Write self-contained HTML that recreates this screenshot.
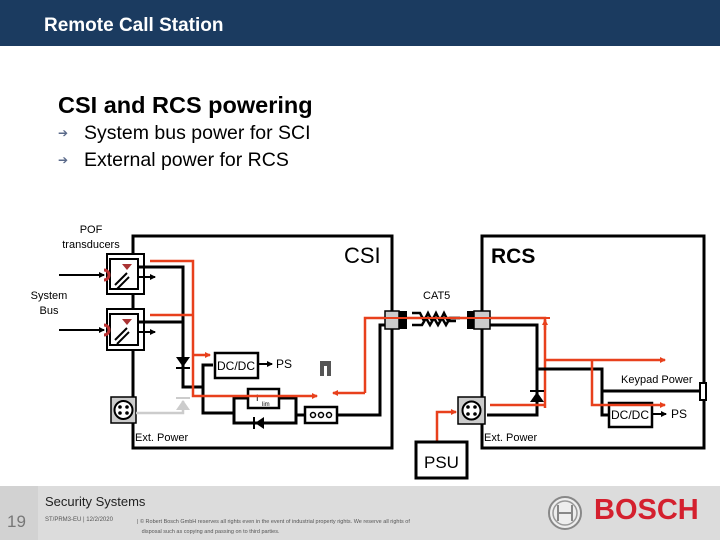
<!DOCTYPE html>
<html><head><meta charset="utf-8"><style>
body{margin:0;width:720px;height:540px;overflow:hidden;background:#fff;font-family:"Liberation Sans",sans-serif;position:relative}
.t{position:absolute;white-space:nowrap}
</style></head><body>
<div style="position:absolute;left:0;top:0;width:720px;height:46px;background:#1b3b60"></div>
<div class="t" style="left:44px;top:15px;font-size:19px;font-weight:bold;color:#fff">Remote Call Station</div>
<div class="t" style="left:58px;top:92px;font-size:23.5px;font-weight:bold;color:#000">CSI and RCS powering</div>
<div class="t" style="left:58px;top:126px;font-size:12px;color:#5a6a8a">➔</div>
<div class="t" style="left:84px;top:122px;font-size:19.5px;color:#000">System bus power for SCI</div>
<div class="t" style="left:58px;top:153px;font-size:12px;color:#5a6a8a">➔</div>
<div class="t" style="left:84px;top:149px;font-size:19.5px;color:#000">External power for RCS</div>

<div style="position:absolute;left:0;top:486px;width:720px;height:54px;background:#dcdcdc"></div>
<div style="position:absolute;left:0;top:486px;width:38px;height:54px;background:#d2d2d2"></div>
<div class="t" style="left:7px;top:512px;font-size:17px;color:#777">19</div>
<div class="t" style="left:45px;top:494px;font-size:13px;color:#222">Security Systems</div>
<div class="t" style="left:45px;top:517px;font-size:6px;color:#555">ST/PRM3-EU | 12/2/2020</div>
<div class="t" style="left:137px;top:517px;font-size:5.5px;color:#555;line-height:10px">| © Robert Bosch GmbH reserves all rights even in the event of industrial property rights. We reserve all rights of<br>&nbsp;&nbsp;&nbsp;disposal such as copying and passing on to third parties.</div>
<svg style="position:absolute;left:545px;top:493px" width="40" height="40"><circle cx="20" cy="20" r="16" fill="#eee" stroke="#888" stroke-width="2"/><circle cx="20" cy="20" r="12" fill="none" stroke="#999" stroke-width="1.5"/><path d="M13 12v16M27 12v16M13 20h14" stroke="#888" stroke-width="2" fill="none"/></svg>
<div class="t" style="left:594px;top:494px;font-size:29px;font-weight:bold;color:#d4202e">BOSCH</div>

<svg style="position:absolute;left:0;top:0" width="720" height="540" font-family="Liberation Sans, sans-serif">
<defs>
<marker id="ar" markerWidth="6" markerHeight="6" refX="5" refY="3" orient="auto" markerUnits="userSpaceOnUse"><path d="M0,0L6,3L0,6z" fill="#e8401c"/></marker>
<marker id="ab" markerWidth="6" markerHeight="6" refX="5" refY="3" orient="auto" markerUnits="userSpaceOnUse"><path d="M0,0L6,3L0,6z" fill="#000"/></marker>
</defs>
<text x="91" y="233" font-size="11" text-anchor="middle">POF</text>
<text x="91" y="248" font-size="11" text-anchor="middle">transducers</text>
<text x="49" y="299" font-size="11" text-anchor="middle">System</text>
<text x="49" y="314" font-size="11" text-anchor="middle">Bus</text>
<rect x="133" y="236" width="259" height="212" fill="none" stroke="#000" stroke-width="3"/>
<rect x="482" y="236" width="222" height="212" fill="none" stroke="#000" stroke-width="3"/>
<text x="344" y="263" font-size="22">CSI</text>
<text x="491" y="263" font-size="21" font-weight="bold">RCS</text>
<text x="423" y="299" font-size="11">CAT5</text>
<g fill="#fff" stroke="#000" stroke-width="2">
<rect x="107" y="254" width="37" height="40"/><rect x="110" y="259" width="28" height="30"/>
<rect x="107" y="309" width="37" height="41"/><rect x="110" y="314" width="28" height="31"/>
</g>
<g stroke="#000" stroke-width="2" fill="none">
<path d="M115 285l12-12M117 289l12-12"/><path d="M115 340l12-12M117 344l12-12"/>
<path d="M59 275h45" marker-end="url(#ab)"/><path d="M59 330h45" marker-end="url(#ab)"/>
<path d="M139 277h16" marker-end="url(#ab)"/><path d="M139 332h16" marker-end="url(#ab)"/>
</g>
<path d="M122 264h10l-5 6z" fill="#a33"/><path d="M122 319h10l-5 6z" fill="#a33"/>
<path d="M104 270a5 5 0 0 1 0 10" stroke="#b33" stroke-width="3" fill="none"/>
<path d="M104 325a5 5 0 0 1 0 10" stroke="#b33" stroke-width="3" fill="none"/>
<g stroke="#000" stroke-width="3" fill="none">
<path d="M139 267h44v120h20v-22h10"/>
<path d="M139 322h44"/>
<path d="M203 387v26h31"/>
<rect x="234" y="398" width="62" height="25"/>
<path d="M296 415h9"/><path d="M337 415h43v-90h5"/>
</g>
<path d="M176 357h14l-7 10z" fill="#000"/><path d="M176 368h14" stroke="#000" stroke-width="2"/>
<rect x="215" y="353" width="43" height="25" fill="#fff" stroke="#000" stroke-width="2.5"/>
<text x="217" y="370" font-size="12">DC/DC</text>
<path d="M258 364h14" stroke="#000" stroke-width="2" marker-end="url(#ab)"/>
<text x="276" y="368" font-size="12">PS</text>
<rect x="320" y="361" width="11" height="15" fill="#555"/><rect x="324" y="366" width="3" height="10" fill="#fff"/>
<rect x="248" y="389" width="31" height="19" fill="#fff" stroke="#000" stroke-width="2.5"/>
<text x="256" y="401" font-size="9">I</text><text x="262" y="406" font-size="6">lim</text>
<path d="M264 417l-9 6 9 6z" fill="#000"/><path d="M254 417v12" stroke="#000" stroke-width="2"/>
<rect x="305" y="407" width="32" height="16" fill="#fff" stroke="#000" stroke-width="2.5"/>
<g fill="none" stroke="#000" stroke-width="1.5"><circle cx="313" cy="415" r="2.5"/><circle cx="321" cy="415" r="2.5"/><circle cx="329" cy="415" r="2.5"/></g>
<rect x="111" y="397" width="25" height="26" fill="#ccc" stroke="#000" stroke-width="1.5"/>
<circle cx="123.5" cy="410" r="9" fill="#fff" stroke="#000" stroke-width="2"/>
<g fill="#000"><circle cx="120" cy="407" r="1.8"/><circle cx="127" cy="407" r="1.8"/><circle cx="120" cy="413" r="1.8"/><circle cx="127" cy="413" r="1.8"/></g>
<path d="M136 413h47v-12" stroke="#ccc" stroke-width="2.5" fill="none"/>
<path d="M176 410h14l-7-10z" fill="#ccc"/><path d="M176 398h14" stroke="#ccc" stroke-width="2"/>
<text x="135" y="441" font-size="11">Ext. Power</text>
<g stroke="#e8401c" stroke-width="2.5" fill="none">
<path d="M150 261h43v135h124" marker-end="url(#ar)"/>
<path d="M150 315h43"/>
<path d="M193 355h17" marker-end="url(#ar)"/>
<path d="M365 393h-32" marker-end="url(#ar)"/>
<path d="M365 393v-75h180v90"/>
<path d="M545 330v-10" marker-end="url(#ar)"/>
</g>
<rect x="385" y="311" width="14" height="18" fill="#ccc" stroke="#000" stroke-width="1.5"/><rect x="399" y="311" width="8" height="18" fill="#000"/>
<rect x="467" y="311" width="7" height="18" fill="#000"/><rect x="474" y="311" width="16" height="18" fill="#ccc" stroke="#000" stroke-width="1.5"/>
<path d="M412 313h8l4 8 4-8 4 8 4-8 4 8 4-8 4 8h8M412 325h10l4-7 4 7 4-7 4 7 4-7 4 7 4-7h10" stroke="#000" stroke-width="2.5" fill="none"/>
<path d="M380 318h170" stroke="#e8401c" stroke-width="2"/>
<g stroke="#000" stroke-width="3" fill="none">
<path d="M490 325h47v90h-50"/>
<path d="M537 369h65v46h7"/>
<path d="M602 391h98"/>
</g>
<path d="M530 402h14l-7-10z" fill="#000"/><path d="M530 391h14" stroke="#000" stroke-width="2"/>
<rect x="700" y="383" width="6" height="17" fill="#fff" stroke="#000" stroke-width="2"/>
<text x="621" y="383" font-size="11">Keypad Power</text>
<rect x="609" y="403" width="43" height="24" fill="#fff" stroke="#000" stroke-width="2.5"/>
<text x="611" y="419" font-size="12">DC/DC</text>
<path d="M652 414h14" stroke="#000" stroke-width="2" marker-end="url(#ab)"/>
<text x="671" y="418" font-size="12">PS</text>
<rect x="458" y="397" width="27" height="27" fill="#ccc" stroke="#000" stroke-width="1.5"/>
<circle cx="471.5" cy="410.5" r="9" fill="#fff" stroke="#000" stroke-width="2"/>
<g fill="#000"><circle cx="468" cy="407" r="1.8"/><circle cx="475" cy="407" r="1.8"/><circle cx="468" cy="414" r="1.8"/><circle cx="475" cy="414" r="1.8"/></g>
<text x="484" y="441" font-size="11">Ext. Power</text>
<g stroke="#e8401c" stroke-width="2.5" fill="none">
<path d="M490 405h55"/>
<path d="M545 360h120" marker-end="url(#ar)"/>
<path d="M592 360v45h73" marker-end="url(#ar)"/>
<path d="M437 442v-30h19" marker-end="url(#ar)"/>
</g>
<rect x="416" y="442" width="51" height="36" fill="#fff" stroke="#000" stroke-width="3"/>
<text x="424" y="468" font-size="17">PSU</text>
</svg>
</body></html>
